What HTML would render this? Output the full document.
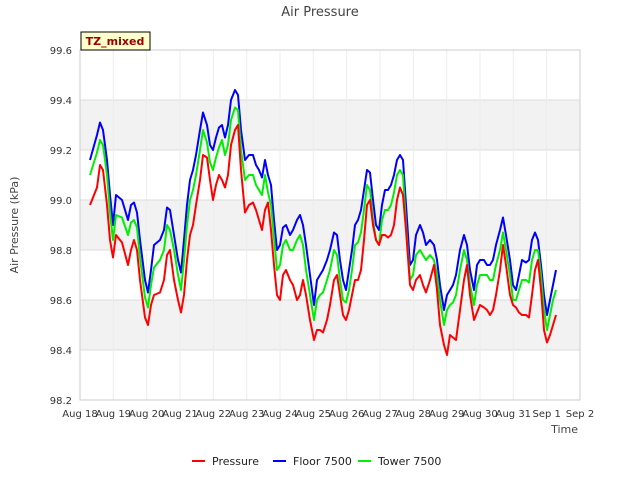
<!DOCTYPE html>
<html><head><meta charset="utf-8"><style>
body{margin:0;background:#fff;font-family:"Liberation Sans","DejaVu Sans",sans-serif;}
svg text{font-family:"DejaVu Sans","Liberation Sans",sans-serif;}
</style></head><body>
<svg id="chart" width="640" height="480" viewBox="0 0 640 480" xmlns="http://www.w3.org/2000/svg">
<rect width="640" height="480" fill="#fff"/>
<g id="bands"></g><g id="grid"></g><g id="axes"></g><g id="series"></g>
<text x="320" y="16" text-anchor="middle" font-size="13" fill="#444">Air Pressure</text>
<text transform="translate(18,225) rotate(-90)" text-anchor="middle" font-size="11" fill="#444">Air Pressure (kPa)</text>
<text x="578" y="433" text-anchor="end" font-size="11" fill="#444">Time</text>
<g><rect x="81" y="32" width="69" height="18" fill="#ffffcc" stroke="#000" stroke-width="1"/><text x="115" y="45" text-anchor="middle" font-size="11" font-weight="bold" fill="#990000">TZ_mixed</text></g>
<g id="legend"></g>
</svg>
<script>
const days=[0.30,0.51,0.60,0.69,0.81,0.90,0.99,1.08,1.26,1.44,1.53,1.62,1.71,1.80,1.95,2.04,2.13,2.22,2.40,2.52,2.61,2.70,2.82,2.94,3.03,3.12,3.21,3.30,3.39,3.48,3.60,3.69,3.81,3.90,3.99,4.08,4.17,4.26,4.35,4.44,4.53,4.65,4.74,4.83,4.95,5.07,5.19,5.28,5.37,5.46,5.55,5.64,5.73,5.82,5.91,6.00,6.09,6.18,6.30,6.39,6.51,6.60,6.69,6.78,6.90,7.02,7.11,7.20,7.29,7.41,7.50,7.62,7.71,7.80,7.89,7.98,8.07,8.16,8.25,8.34,8.43,8.52,8.61,8.70,8.79,8.88,8.97,9.06,9.15,9.24,9.33,9.42,9.51,9.60,9.69,9.78,9.90,9.99,10.08,10.20,10.29,10.38,10.50,10.62,10.71,10.80,10.92,11.01,11.10,11.19,11.28,11.40,11.52,11.61,11.70,11.82,11.91,12.00,12.12,12.21,12.30,12.39,12.48,12.60,12.69,12.78,12.90,12.99,13.08,13.17,13.26,13.38,13.47,13.56,13.65,13.74,13.83,13.92,14.01,14.10,14.19,14.28];
const floor7500=[99.16,99.26,99.31,99.28,99.16,99.02,98.90,99.02,99.00,98.92,98.98,98.99,98.95,98.84,98.68,98.63,98.72,98.82,98.84,98.88,98.97,98.96,98.86,98.76,98.71,98.84,98.98,99.08,99.12,99.18,99.28,99.35,99.30,99.22,99.20,99.25,99.29,99.30,99.25,99.30,99.40,99.44,99.42,99.28,99.16,99.18,99.18,99.14,99.12,99.09,99.16,99.10,99.06,98.92,98.80,98.82,98.89,98.90,98.86,98.88,98.92,98.94,98.90,98.82,98.70,98.58,98.68,98.70,98.72,98.76,98.80,98.87,98.86,98.76,98.68,98.64,98.72,98.80,98.90,98.92,98.96,99.04,99.12,99.11,99.00,98.90,98.88,98.98,99.04,99.04,99.06,99.10,99.16,99.18,99.16,98.98,98.74,98.76,98.86,98.90,98.87,98.82,98.84,98.82,98.76,98.66,98.56,98.62,98.64,98.66,98.70,98.80,98.86,98.82,98.72,98.64,98.74,98.76,98.76,98.74,98.74,98.76,98.82,98.88,98.93,98.86,98.76,98.66,98.64,98.70,98.76,98.75,98.76,98.84,98.87,98.84,98.74,98.62,98.54,98.60,98.66,98.72];
const tower7500=[99.10,99.19,99.24,99.22,99.10,98.95,98.84,98.94,98.93,98.86,98.91,98.92,98.89,98.77,98.61,98.57,98.66,98.73,98.76,98.80,98.90,98.88,98.80,98.70,98.64,98.76,98.90,99.00,99.04,99.10,99.20,99.28,99.23,99.15,99.12,99.17,99.21,99.24,99.18,99.22,99.32,99.37,99.36,99.20,99.08,99.10,99.10,99.06,99.04,99.02,99.10,99.03,98.98,98.85,98.72,98.74,98.82,98.84,98.80,98.80,98.84,98.86,98.82,98.72,98.62,98.52,98.60,98.62,98.63,98.68,98.72,98.80,98.78,98.68,98.60,98.59,98.64,98.72,98.82,98.83,98.87,98.96,99.06,99.04,98.92,98.84,98.82,98.92,98.96,98.96,98.98,99.03,99.10,99.12,99.10,98.90,98.68,98.70,98.78,98.80,98.78,98.76,98.78,98.76,98.70,98.60,98.50,98.56,98.58,98.59,98.62,98.72,98.80,98.76,98.66,98.58,98.66,98.70,98.70,98.70,98.68,98.68,98.74,98.80,98.87,98.80,98.70,98.60,98.60,98.64,98.68,98.68,98.67,98.76,98.80,98.80,98.70,98.56,98.48,98.54,98.60,98.64];
const pressure=[98.98,99.05,99.14,99.12,98.98,98.84,98.77,98.86,98.83,98.74,98.80,98.84,98.80,98.68,98.53,98.50,98.58,98.62,98.63,98.68,98.78,98.80,98.68,98.60,98.55,98.62,98.76,98.86,98.90,98.98,99.08,99.18,99.17,99.08,99.00,99.06,99.10,99.08,99.05,99.10,99.22,99.28,99.30,99.12,98.95,98.98,98.99,98.96,98.92,98.88,98.96,98.99,98.88,98.74,98.62,98.60,98.70,98.72,98.68,98.66,98.60,98.62,98.68,98.62,98.52,98.44,98.48,98.48,98.47,98.52,98.58,98.68,98.70,98.62,98.54,98.52,98.56,98.62,98.68,98.68,98.72,98.84,98.98,99.00,98.90,98.84,98.82,98.86,98.86,98.85,98.86,98.90,99.00,99.05,99.02,98.88,98.66,98.64,98.68,98.70,98.66,98.63,98.68,98.74,98.64,98.50,98.42,98.38,98.46,98.45,98.44,98.56,98.68,98.74,98.62,98.52,98.55,98.58,98.57,98.56,98.54,98.56,98.62,98.72,98.82,98.74,98.62,98.58,98.57,98.55,98.54,98.54,98.53,98.62,98.72,98.76,98.64,98.48,98.43,98.46,98.50,98.54];
const yTicks=[98.2,98.4,98.6,98.8,99.0,99.2,99.4,99.6];
const xTickLabels=["Aug 18","Aug 19","Aug 20","Aug 21","Aug 22","Aug 23","Aug 24","Aug 25","Aug 26","Aug 27","Aug 28","Aug 29","Aug 30","Aug 31","Sep 1","Sep 2"];
const seriesNames=["Pressure","Floor 7500","Tower 7500"];
const seriesColors=["#ff0000","#0000ff","#00ee00"];

const L=80,R=580,T=50,B=400,ymin=98.2,ymax=99.6,dmax=15;
const xs=d=>L+(R-L)*d/dmax, ys=v=>B-(B-T)*(v-ymin)/(ymax-ymin);
const NS="http://www.w3.org/2000/svg";
function mk(tag,attrs,parent){const e=document.createElementNS(NS,tag);for(const k in attrs)e.setAttribute(k,attrs[k]);parent.appendChild(e);return e;}
const bands=document.getElementById('bands'),grid=document.getElementById('grid'),axes=document.getElementById('axes'),ser=document.getElementById('series'),leg=document.getElementById('legend');
mk('rect',{x:L,y:T,width:R-L,height:B-T,fill:'#fff'},bands);
for(let i=0;i<yTicks.length-1;i++){ if(i%2===1){const r=mk('rect',{x:L,y:ys(yTicks[i+1]),width:R-L,height:ys(yTicks[i])-ys(yTicks[i+1]),fill:'#f2f2f2'},bands);

}}
yTicks.forEach(v=>{const y=ys(v);
const g=mk('line',{x1:L,x2:R,y1:y,y2:y,stroke:'#dcdcdc','stroke-width':1},grid);


const t=mk('text',{x:L-8,y:y+4,'text-anchor':'end','font-size':10,fill:'#333'},axes);t.textContent=v.toFixed(1);

});
xTickLabels.forEach((lab,i)=>{const x=xs(i);
const g=mk('line',{x1:x,x2:x,y1:T,y2:B,stroke:'#ececec','stroke-width':1},grid);


const t=mk('text',{x:x,y:B+17,'text-anchor':'middle','font-size':10,fill:'#333'},axes);t.textContent=lab;

});
const fr=mk('rect',{x:L,y:T,width:R-L,height:B-T,fill:'none',stroke:'#ccc'},axes);


[pressure,floor7500,tower7500].forEach((arr,si)=>{
const pts=arr.map((v,i)=>xs(days[i]).toFixed(1)+','+ys(v).toFixed(1)).join(' ');
const p=mk('polyline',{points:pts,fill:'none',stroke:seriesColors[si],'stroke-width':2,'stroke-linejoin':'round'},ser);

});
ser.appendChild(ser.children[0]);
const lx=[192,273,358];
seriesNames.forEach((n,i)=>{const g=mk('g',{},leg);


mk('line',{x1:lx[i],x2:lx[i]+13,y1:461,y2:461,stroke:seriesColors[i],'stroke-width':2},g);
const t=mk('text',{x:lx[i]+20,y:465,'font-size':11,fill:'#222'},g);t.textContent=n;});
</script>
</body></html>
